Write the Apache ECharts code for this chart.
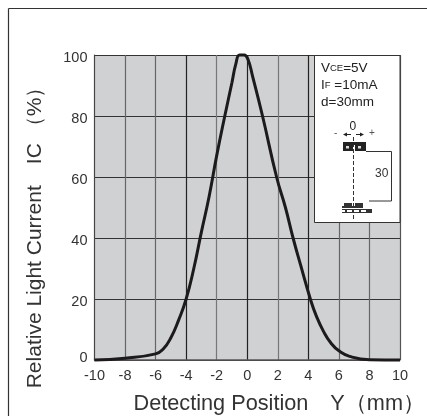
<!DOCTYPE html>
<html><head><meta charset="utf-8">
<style>html,body{margin:0;padding:0;background:#fff}#c{width:427px;height:416px}</style>
<script src="https://cdn.jsdelivr.net/npm/echarts@6/dist/echarts.min.js"></script>
</head><body><div id="c"></div>
<script>
const positions = [-10,-8,-6,-5.5,-5,-4.5,-4,-3.5,-3,-2.5,-2,-1.47,-1,-0.75,-0.5,-0.2,0.05,0.35,1,1.92,2.5,3,3.5,4.13,4.5,5,5.5,6,6.7,8,10];
const relativeCurrent = [0,0.6,2,3.6,7.3,13,20,30,42,53.5,67,80,91,97,100,100,98.5,93,80,60,50,40,31,20,14.7,9.3,5.4,3,1.2,0.1,0];
const vGridColors = ['#555','#666','#666','#222','#777','#222','#777','#222','#666','#666','#555'];
const F = '"Liberation Sans", Arial, sans-serif';
const chart = echarts.init(document.getElementById('c'), null, {renderer:'canvas'});
const ln=(a,b,c,d,w,col,dash)=>({type:'line',z:11,shape:{x1:a,y1:b,x2:c,y2:d},style:{stroke:col||'#222',lineWidth:w||1,lineDash:dash||null}});
const box=(x,y,w,h,fill)=>({type:'rect',z:11,shape:{x,y,width:w,height:h},style:{fill:fill||'#222'}});
const tri=(p)=>({type:'polygon',z:11,shape:{points:p},style:{fill:'#222'}});
const txt=(x,y,text,size,extra)=>({type:'text',z:11,x,y,style:Object.assign({fontFamily:F,fontSize:size,fill:'#222',text},extra||{})});
chart.setOption({
  animation:false,
  backgroundColor:'#fff',
  grid:{left:94.5,right:27,top:55,bottom:56,backgroundColor:'#d0d1d3',show:true,borderWidth:0,outerBoundsMode:'none'},
  xAxis:{type:'value',min:-10,max:10,interval:2,
    name:'Detecting Position\u3000Y\uFF08mm\uFF09',nameLocation:'middle',nameGap:33,
    nameTextStyle:{fontFamily:F,fontSize:21.7,color:'#333',padding:[0,0,0,64]},
    axisLine:{show:true,onZero:false,lineStyle:{color:'#555',width:1.5}},axisTick:{show:false},
    axisLabel:{fontFamily:F,fontSize:14.5,color:'#333',margin:8,showMinLabel:true,showMaxLabel:true},
    splitLine:{show:true,lineStyle:{color:vGridColors,width:1.2}}},
  yAxis:{type:'value',min:0,max:100,interval:20,
    name:'Relative Light Current\u3000IC \uFF08%\uFF09',nameLocation:'middle',nameGap:49,
    nameTextStyle:{fontFamily:F,fontSize:21,color:'#333',padding:[0,50,0,0]},
    axisLine:{show:true,onZero:false,lineStyle:{color:'#444',width:1}},axisTick:{show:false},
    axisLabel:{fontFamily:F,fontSize:14.5,color:'#333',margin:7,verticalAlign:'top',lineHeight:5,verticalAlignMinLabel:'bottom',verticalAlignMaxLabel:'top'},
    splitLine:{show:true,lineStyle:{color:'#333',width:1}}},
  series:[{type:'line',data:positions.map((p,i)=>[p,relativeCurrent[i]]),smooth:0.5,showSymbol:false,clip:false,
    lineStyle:{color:'#1c1a1b',width:3},z:5}],
  graphic:[
    ln(8.5,8.5,427,8.5,1.2,'#333'),ln(8.5,8.5,8.5,416,1.2,'#333'),
    {type:'rect',z:10,shape:{x:314.5,y:55.5,width:85.5,height:167},style:{fill:'#fff',stroke:'#333',lineWidth:1}},
    txt(321,61,'{a|V}{b|CE}{a|=5V}',13.5,{rich:{a:{fontSize:13.5,fontFamily:F,fill:'#222'},b:{fontSize:9.5,fontFamily:F,fill:'#222'}}}),
    txt(321,78,'{b|I}{c|F}{a| =10mA}',13.5,{rich:{a:{fontSize:13.5,fontFamily:F,fill:'#222'},b:{fontSize:13.5,fontFamily:F,fill:'#222'},c:{fontSize:9.5,fontFamily:F,fill:'#222'}}}),
    txt(321,95,'d=30mm',13.5),
    txt(349.5,121,'0',12),
    txt(334,128,'-',10,{fill:'#555'}),
    txt(369,128,'+',10,{fill:'#555'}),
    txt(375,168,'30',12,{fill:'#333'}),
    ln(345,134.5,351,134.5,1),ln(356,134.5,362,134.5,1),
    tri([[343,134.5],[347,132.5],[347,136.5]]),tri([[364,134.5],[360,132.5],[360,136.5]]),
    ln(353.5,137,353.5,219,1,'#333',[4,2]),
    box(343,142,10,9),box(355,142,11,9),box(351,142,5,3),
    box(346,146,3,2.5,'#ddd'),box(358,146,3,2.5,'#ddd'),
    box(344,203,8,3,'#333'),box(355,203,8,3,'#333'),box(342,206,21,2,'#333'),
    box(342,209,30,1,'#333'),box(342,212,24,1,'#333'),box(366,209,6,4,'#333'),
    box(345,210,2,2,'#333'),box(352,210,2,2,'#333'),box(359,210,2,2,'#333'),
    ln(366,151.5,391.5,151.5,1,'#333'),ln(391.5,151.5,391.5,201,1,'#333'),ln(369,201,391.5,201,1,'#333')
  ]
});
</script></body></html>
